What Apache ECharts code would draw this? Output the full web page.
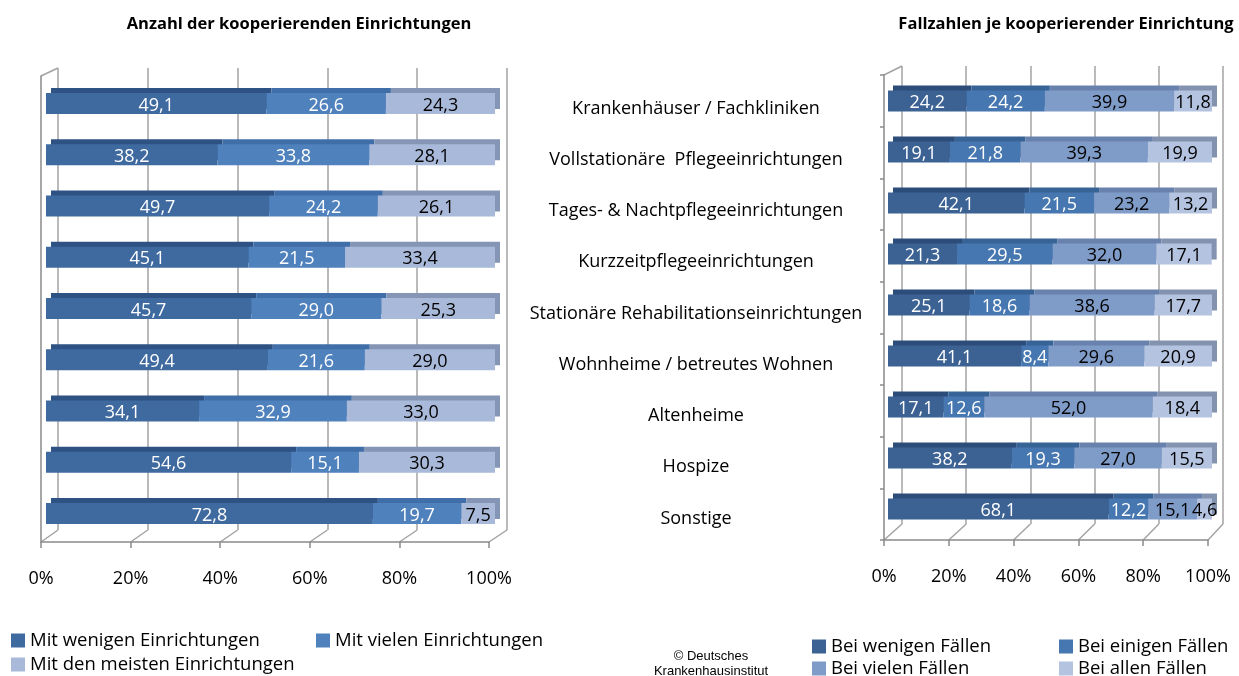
<!DOCTYPE html>
<html lang="de">
<head>
<meta charset="UTF-8">
<title>Kooperierende Einrichtungen</title>
<script src="https://cdn.jsdelivr.net/npm/echarts@6/dist/echarts.min.js"></script>
</head>
<body style="margin:0;background:#fff">
<div id="chart" style="width:1239px;height:676px;"></div>
<script>
// Kategorien (Mitte)
var categories = ['Krankenhäuser / Fachkliniken', 'Vollstationäre  Pflegeeinrichtungen',
  'Tages- & Nachtpflegeeinrichtungen', 'Kurzzeitpflegeeinrichtungen',
  'Stationäre Rehabilitationseinrichtungen', 'Wohnheime / betreutes Wohnen',
  'Altenheime', 'Hospize', 'Sonstige'];

// linkes Diagramm: Anzahl der kooperierenden Einrichtungen
var mitWenigen = [49.1, 38.2, 49.7, 45.1, 45.7, 49.4, 34.1, 54.6, 72.8];
var mitVielen = [26.6, 33.8, 24.2, 21.5, 29.0, 21.6, 32.9, 15.1, 19.7];
var mitMeisten = [24.3, 28.1, 26.1, 33.4, 25.3, 29.0, 33.0, 30.3, 7.5];

// rechtes Diagramm: Fallzahlen je kooperierender Einrichtung
var beiWenigen = [24.2, 19.1, 42.1, 21.3, 25.1, 41.1, 17.1, 38.2, 68.1];
var beiEinigen = [24.2, 21.8, 21.5, 29.5, 18.6, 8.4, 12.6, 19.3, 12.2];
var beiVielen = [39.9, 39.3, 23.2, 32.0, 38.6, 29.6, 52.0, 27.0, 15.1];
var beiAllen = [11.8, 19.9, 13.2, 17.1, 17.7, 20.9, 18.4, 15.5, 4.6];

var axisTicks = [0, 20, 40, 60, 80, 100];

var FONT = '"Open Sans", sans-serif';
var GRIDCOL = '#a3a3a3';

var leftSeries = [
  {name: 'Mit wenigen Einrichtungen', data: mitWenigen, color: '#3f6aa0', top: '#2e5283', label: '#fff'},
  {name: 'Mit vielen Einrichtungen', data: mitVielen, color: '#4f81bd', top: '#3f6ea8', label: '#fff'},
  {name: 'Mit den meisten Einrichtungen', data: mitMeisten, color: '#a9b9d9', top: '#8595b5', label: '#000'}
];
var rightSeries = [
  {name: 'Bei wenigen Fällen', data: beiWenigen, color: '#3c6294', top: '#2c4d7a', label: '#fff'},
  {name: 'Bei einigen Fällen', data: beiEinigen, color: '#4677b0', top: '#376397', label: '#fff'},
  {name: 'Bei vielen Fällen', data: beiVielen, color: '#7f9bc8', top: '#6882ad', label: '#000'},
  {name: 'Bei allen Fällen', data: beiAllen, color: '#b3c3e0', top: '#8392ae', label: '#000'}
];

function fmt(p) { return p.value.toFixed(1).replace('.', ','); }

var grids = [
  {left: 58, top: 68, width: 449, height: 462},     // 0 links Rückwand
  {left: 41, top: 76, width: 448, height: 466},     // 1 links Frontachse
  {left: 51, top: 73, width: 449, height: 461},     // 2 links 3D-Schatten
  {left: 46, top: 78, width: 449, height: 461},     // 3 links Balken
  {left: 902, top: 66, width: 321, height: 458},    // 4 rechts Rückwand
  {left: 884, top: 75, width: 324, height: 465},    // 5 rechts Frontachse
  {left: 893, top: 70.5, width: 324, height: 459},  // 6 rechts 3D-Schatten
  {left: 888, top: 75.5, width: 324, height: 459}   // 7 rechts Balken
];

var xAxes = [], yAxes = [];
grids.forEach(function (g, i) {
  var isBack = (i === 0 || i === 4);
  var isFront = (i === 1 || i === 5);
  xAxes.push({
    type: 'value', gridIndex: i, min: 0, max: 100, interval: 20,
    show: isBack || isFront,
    axisLine: {show: isFront, lineStyle: {color: '#8a8a8a', width: 1.5}},
    axisTick: {show: isFront, length: 6, lineStyle: {color: '#8a8a8a', width: 1.5}},
    splitLine: {show: isBack, lineStyle: {color: GRIDCOL, width: 1.5}},
    axisLabel: {show: isFront, formatter: '{value}%', margin: 28, color: '#000', fontFamily: FONT, fontSize: 18}
  });
  var y = {
    type: 'category', gridIndex: i, data: categories, inverse: true,
    show: isFront || i === 3,
    axisLine: {show: isFront, lineStyle: {color: '#8a8a8a', width: 1.5}},
    axisTick: {show: i === 5, length: 4, lineStyle: {color: '#8a8a8a', width: 1.5}},
    axisLabel: {show: false},
    splitLine: {show: false}
  };
  if (i === 3) {
    y.position = 'right';
    y.axisLine = {show: false};
    y.axisTick = {show: false};
    y.axisLabel = {show: true, margin: 201, align: 'center', verticalAlign: 'top',
      lineHeight: 10, color: '#000', fontFamily: FONT, fontSize: 18};
  }
  yAxes.push(y);
});

var series = [];
function addBars(list, shadowGrid, frontGrid, stack) {
  list.forEach(function (s) {
    series.push({
      type: 'bar', name: s.name + ' 3d', stack: stack + '3d', data: s.data,
      xAxisIndex: shadowGrid, yAxisIndex: shadowGrid, barWidth: 21,
      itemStyle: {color: s.top}, silent: true
    });
  });
  list.forEach(function (s) {
    series.push({
      type: 'bar', name: s.name, stack: stack, data: s.data,
      xAxisIndex: frontGrid, yAxisIndex: frontGrid, barWidth: 21,
      itemStyle: {color: s.color},
      label: {show: true, position: 'inside', formatter: fmt, color: s.label,
        fontFamily: FONT, fontSize: 18, offset: [0, 2]}
    });
  });
}
addBars(leftSeries, 2, 3, 'links');
addBars(rightSeries, 6, 7, 'rechts');

var legendPos = [
  {name: 'Mit wenigen Einrichtungen', left: 11, top: 631},
  {name: 'Mit vielen Einrichtungen', left: 316, top: 631},
  {name: 'Mit den meisten Einrichtungen', left: 11, top: 655},
  {name: 'Bei wenigen Fällen', left: 812, top: 637},
  {name: 'Bei einigen Fällen', left: 1059, top: 637},
  {name: 'Bei vielen Fällen', left: 812, top: 659},
  {name: 'Bei allen Fällen', left: 1059, top: 659}
];
var legends = legendPos.map(function (l) {
  return {
    data: [l.name], left: l.left, top: l.top, padding: 0,
    icon: 'rect', itemWidth: 14, itemHeight: 14, selectedMode: false,
    textStyle: {color: '#000', fontFamily: FONT, fontSize: 18.5}
  };
});

// 3D-Kanten (Verbindungen Front -> Rückwand)
var graphics = [];
function wallEdges(front, back, axisY, backBottom, frontTop, backTop) {
  axisTicks.forEach(function (t) {
    var fx = front.left + front.width * t / 100;
    var bx = back.left + back.width * t / 100;
    graphics.push({type: 'line', shape: {x1: fx, y1: axisY, x2: bx, y2: backBottom},
      style: {stroke: GRIDCOL, lineWidth: 1.5}, silent: true});
  });
  graphics.push({type: 'line', shape: {x1: front.left, y1: frontTop, x2: back.left, y2: backTop},
    style: {stroke: GRIDCOL, lineWidth: 1.5}, silent: true});
}
wallEdges(grids[1], grids[0], 542, 530, 76, 68);
wallEdges(grids[5], grids[4], 540, 524, 75, 66);

var chart = echarts.init(document.getElementById('chart'));
chart.setOption({
  animation: false,
  backgroundColor: '#fff',
  title: [
    {text: 'Anzahl der kooperierenden Einrichtungen', left: 294, top: 11, textAlign: 'center',
      textStyle: {fontFamily: FONT, fontSize: 16.5, fontWeight: 'bold', color: '#000'}},
    {text: 'Fallzahlen je kooperierender Einrichtung', left: 1061, top: 11, textAlign: 'center',
      textStyle: {fontFamily: FONT, fontSize: 16.5, fontWeight: 'bold', color: '#000'}},
    {text: '© Deutsches\nKrankenhausinstitut', left: 706, top: 644, textAlign: 'center',
      textStyle: {fontFamily: '"Liberation Sans", Arial, sans-serif', fontSize: 13,
        fontWeight: 'normal', color: '#000', lineHeight: 15}}
  ],
  legend: legends,
  grid: grids,
  xAxis: xAxes,
  yAxis: yAxes,
  series: series,
  graphic: graphics
});
</script>
</body>
</html>
